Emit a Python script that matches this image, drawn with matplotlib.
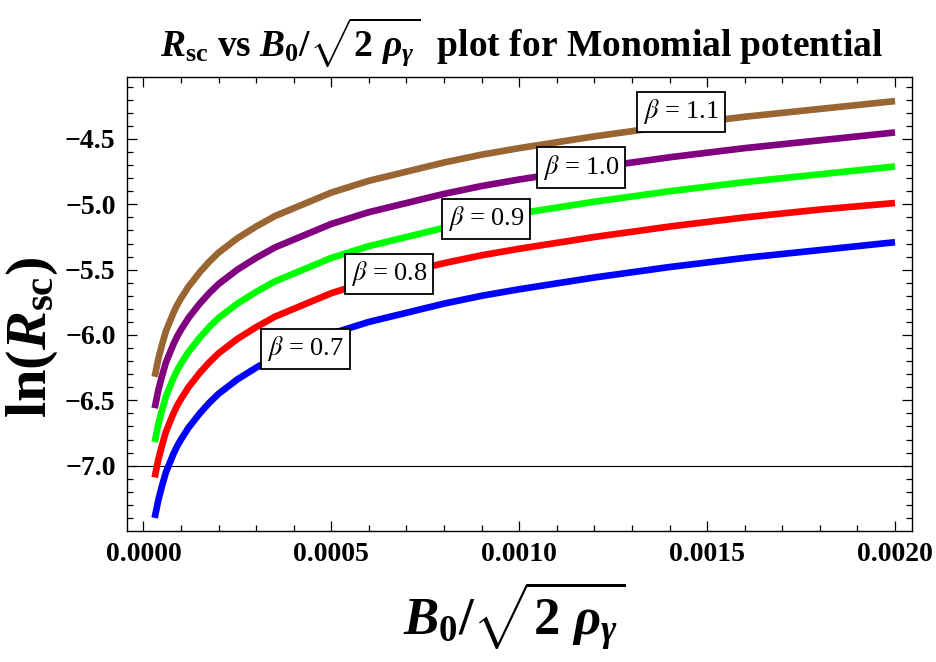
import matplotlib
matplotlib.use("Agg")
import matplotlib.pyplot as plt
from matplotlib.ticker import MultipleLocator, FuncFormatter

# B0 / sqrt(2 rho_gamma) sample positions
b_ratio = [0.00003, 0.00004, 0.00005, 0.00006, 0.00007, 0.00008, 0.00009, 0.0001,
           0.00012, 0.00015, 0.000175, 0.0002, 0.00025, 0.0003, 0.00035, 0.0004,
           0.0005, 0.0006, 0.0007, 0.0008, 0.0009, 0.0010, 0.0012, 0.0014,
           0.0016, 0.0018, 0.0020]

# ln(R_sc) for each beta
ln_r_07 = [-7.40, -7.26, -7.15, -7.05, -6.98, -6.91, -6.85, -6.80, -6.71, -6.60,
           -6.52, -6.45, -6.34, -6.25, -6.17, -6.11, -5.99, -5.90, -5.83, -5.76,
           -5.70, -5.65, -5.56, -5.48, -5.41, -5.35, -5.29]
ln_r_08 = [-7.09, -6.95, -6.84, -6.74, -6.67, -6.60, -6.54, -6.49, -6.40, -6.29,
           -6.21, -6.14, -6.03, -5.94, -5.86, -5.80, -5.68, -5.59, -5.52, -5.45,
           -5.39, -5.34, -5.25, -5.17, -5.10, -5.04, -4.99]
ln_r_09 = [-6.82, -6.68, -6.57, -6.47, -6.40, -6.33, -6.27, -6.22, -6.13, -6.02,
           -5.94, -5.87, -5.76, -5.67, -5.59, -5.53, -5.41, -5.32, -5.25, -5.18,
           -5.12, -5.07, -4.98, -4.90, -4.83, -4.77, -4.71]
ln_r_10 = [-6.56, -6.42, -6.31, -6.21, -6.14, -6.07, -6.01, -5.96, -5.87, -5.76,
           -5.68, -5.61, -5.50, -5.41, -5.33, -5.27, -5.15, -5.06, -4.99, -4.92,
           -4.86, -4.81, -4.72, -4.64, -4.57, -4.51, -4.45]
ln_r_11 = [-6.32, -6.18, -6.07, -5.97, -5.90, -5.83, -5.77, -5.72, -5.63, -5.52,
           -5.44, -5.37, -5.26, -5.17, -5.09, -5.03, -4.91, -4.82, -4.75, -4.68,
           -4.62, -4.57, -4.48, -4.40, -4.33, -4.27, -4.21]

betas = ["0.7", "0.8", "0.9", "1.0", "1.1"]
curves = [ln_r_07, ln_r_08, ln_r_09, ln_r_10, ln_r_11]
colors = ["#0000ff", "#ff0000", "#00ff00", "#800080", "#996633"]

# where each beta tag sits on its curve
label_x = [0.000431, 0.000653, 0.000911, 0.001165, 0.001431]
label_y = [-6.106, -5.532, -5.111, -4.720, -4.292]

plt.rcParams["font.family"] = ["Liberation Serif", "DejaVu Serif"]
plt.rcParams["mathtext.fontset"] = "custom"
plt.rcParams["mathtext.rm"] = "Liberation Serif:bold"
plt.rcParams["mathtext.it"] = "Liberation Serif:bold:italic"
plt.rcParams["mathtext.bf"] = "Liberation Serif:bold"

fig = plt.figure(figsize=(9.36, 6.62), dpi=100)
ax = fig.add_axes([0.1354, 0.1983, 0.8386, 0.6849])

ax.axhline(-7.0, color="black", lw=0.8, zorder=1)

for ys, c in zip(curves, colors):
    ax.plot(b_ratio, ys, color=c, lw=4.8, solid_capstyle="butt", zorder=2)

for b, x, y in zip(betas, label_x, label_y):
    ax.text(x, y, r"$\beta$ = " + b, fontsize=19, ha="center", va="center",
            math_fontfamily="stix", zorder=3,
            bbox=dict(boxstyle="square,pad=0.22", fc="white", ec="black", lw=1.3))

ax.set_xlim(-0.0000443, 0.0020443)
ax.set_ylim(-7.498, -4.028)

ax.xaxis.set_major_locator(MultipleLocator(0.0005))
ax.xaxis.set_minor_locator(MultipleLocator(0.0001))
ax.yaxis.set_major_locator(MultipleLocator(0.5))
ax.yaxis.set_minor_locator(MultipleLocator(0.1))
ax.xaxis.set_major_formatter(FuncFormatter(lambda v, p: f"{v:.4f}"))
ax.yaxis.set_major_formatter(FuncFormatter(lambda v, p: f"{v:.1f}".replace("-", "\u2212")))

ax.tick_params(which="both", direction="in", top=True, right=True, width=0.9)
ax.tick_params(which="major", length=7, labelsize=20, pad=8)
ax.tick_params(which="minor", length=4)
for lbl in ax.get_xticklabels() + ax.get_yticklabels():
    lbl.set_fontweight("bold")
for s in ax.spines.values():
    s.set_linewidth(1.0)

fig.text(0.557, 0.935,
         r"$R_{\mathrm{sc}}$ vs $B_0/\sqrt{2\ \rho_\gamma}$  plot for Monomial potential",
         fontsize=27, fontweight="bold", ha="center", va="center")
fig.text(0.55, 0.07, r"$B_0/\sqrt{2\ \rho_\gamma}$", fontsize=38,
         fontweight="bold", ha="center", va="center")
fig.text(0.034, 0.49, r"ln($R_{\mathrm{sc}}$)", fontsize=42, fontweight="bold",
         ha="center", va="center", rotation=90)

fig.savefig("out.png", dpi=100)
